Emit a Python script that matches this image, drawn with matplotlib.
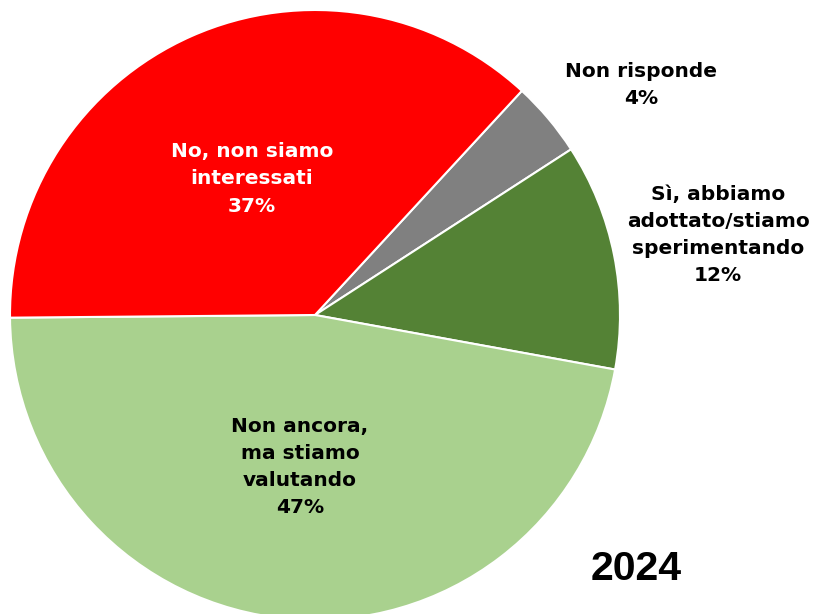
import matplotlib
matplotlib.use('Agg')
import matplotlib.pyplot as plt

# dati (ordine orario a partire da "Non risponde")
labels = ['Non risponde', 'Sì, abbiamo\nadottato/stiamo\nsperimentando',
          'Non ancora,\nma stiamo\nvalutando', 'No, non siamo\ninteressati']
values = [4, 12, 47, 37]
colors = ['#808080', '#548235', '#A9D18E', '#FF0000']
text_colors = ['black', 'black', 'black', 'white']
year = '2024'

# posizione etichette in pixel (x, y dall'alto)
label_px = [(641, 85), (718, 235), (300, 467), (252, 179)]

W, H = 819, 614
cx, cy, R = 315, 315, 305

fig = plt.figure(figsize=(W / 100, H / 100), dpi=100)
ax = fig.add_axes([0, 0, 1, 1])
ax.pie(values, colors=colors, startangle=47.3, counterclock=False,
       radius=1.0, wedgeprops=dict(edgecolor='white', linewidth=1.5))
ax.set_xlim(-cx / R, (W - cx) / R)
ax.set_ylim(-(H - cy) / R, cy / R)
ax.set_aspect('equal')
ax.axis('off')


def to_data(px, py):
    return (px - cx) / R, (cy - py) / R


for lab, v, tc, (px, py) in zip(labels, values, text_colors, label_px):
    x, y = to_data(px, py)
    ax.text(x, y, f'{lab}\n{v}%', ha='center', va='center', color=tc,
            fontsize=14.5, fontweight='bold', family='DejaVu Sans',
            linespacing=1.55)

x, y = to_data(636, 569)
ax.text(x, y, year, ha='center', va='center', fontsize=29.5,
        fontweight='bold', family=['Liberation Sans', 'DejaVu Sans'],
        fontstretch='normal')

fig.savefig('out.png', dpi=100)
